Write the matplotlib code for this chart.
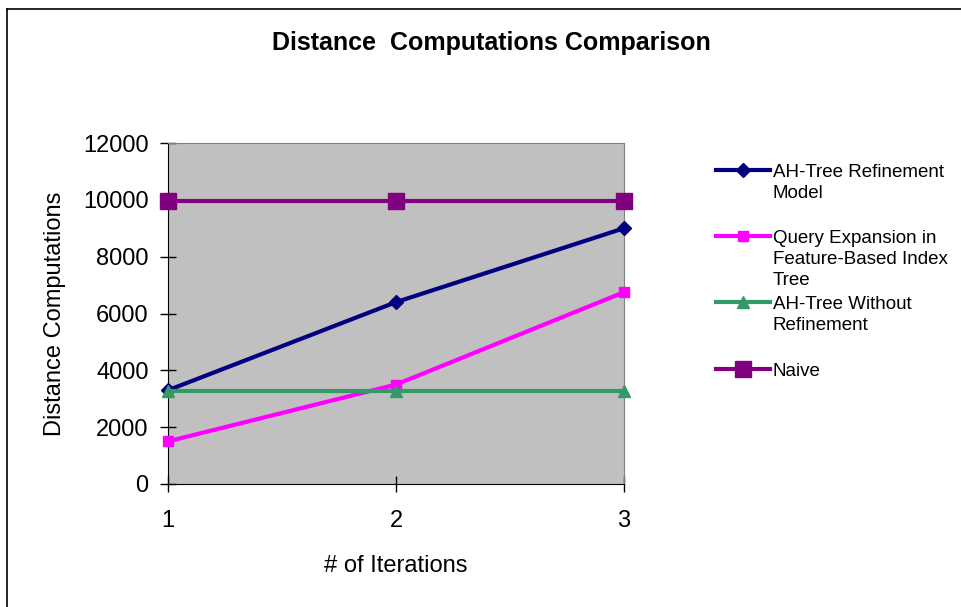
import matplotlib.pyplot as plt
from matplotlib.lines import Line2D

plt.rcParams['font.family'] = ['Liberation Sans', 'DejaVu Sans']

iterations = [1, 2, 3]
ah_tree_refine = [3300, 6400, 9000]
query_expansion = [1500, 3500, 6750]
ah_tree_plain = [3280, 3280, 3280]
naive = [9950, 9950, 9950]

y_ticks = [0, 2000, 4000, 6000, 8000, 10000, 12000]

series = [
    (ah_tree_refine, 'AH-Tree Refinement\nModel', '#000080', 'D', 7),
    (query_expansion, 'Query Expansion in\nFeature-Based Index\nTree', '#FF00FF', 's', 7),
    (ah_tree_plain, 'AH-Tree Without\nRefinement', '#339966', '^', 9),
    (naive, 'Naive', '#800080', 's', 12),
]

fig = plt.figure(figsize=(9.61, 6.07), dpi=100)
ax = fig.add_axes([168 / 961, 1 - 484 / 607, (624 - 168) / 961, (484 - 143) / 607])
ax.set_facecolor('#C0C0C0')

for values, label, color, marker, ms in series:
    ax.plot(iterations, values, color=color, lw=3, marker=marker, ms=ms,
            clip_on=False, zorder=3)

ax.set_xlim(1, 3)
ax.set_ylim(0, 12000)
ax.set_xticks(iterations)
ax.set_yticks(y_ticks)
ax.tick_params(direction='inout', length=12, width=1, labelsize=17, color='black')
ax.tick_params(axis='y', pad=8)
ax.tick_params(axis='x', pad=13)

for side in ['top', 'right']:
    ax.spines[side].set_color('#808080')
for side in ['left', 'bottom']:
    ax.spines[side].set_color('black')

ax.set_xlabel('# of Iterations', fontsize=17, labelpad=16)
ax.set_ylabel('Distance Computations', fontsize=17, labelpad=12)

fig.text(491 / 961, 1 - 43 / 607, 'Distance  Computations Comparison',
         ha='center', va='center', fontsize=18, fontweight='bold')

# legend entries to the right of the plot, handle aligned with first text line
legend_rows = [170, 236, 302, 369]
for (values, label, color, marker, ms), row in zip(series, legend_rows):
    y = 1 - row / 607
    fig.add_artist(Line2D([716 / 961, 770 / 961], [y, y], color=color, lw=3,
                          transform=fig.transFigure))
    fig.add_artist(Line2D([743 / 961], [y], color=color, marker=marker, ms=ms,
                          transform=fig.transFigure))
    fig.text(773 / 961, y + 6 / 607, label, ha='left', va='top', fontsize=13.5,
             linespacing=1.32)

# chart frame
fig.add_artist(Line2D([7 / 961, 7 / 961], [0, 1 - 9 / 607], color='black', lw=1.2,
                      transform=fig.transFigure))
fig.add_artist(Line2D([7 / 961, 1], [1 - 9 / 607, 1 - 9 / 607], color='black', lw=1.2,
                      transform=fig.transFigure))

fig.savefig('out.png', dpi=100)
